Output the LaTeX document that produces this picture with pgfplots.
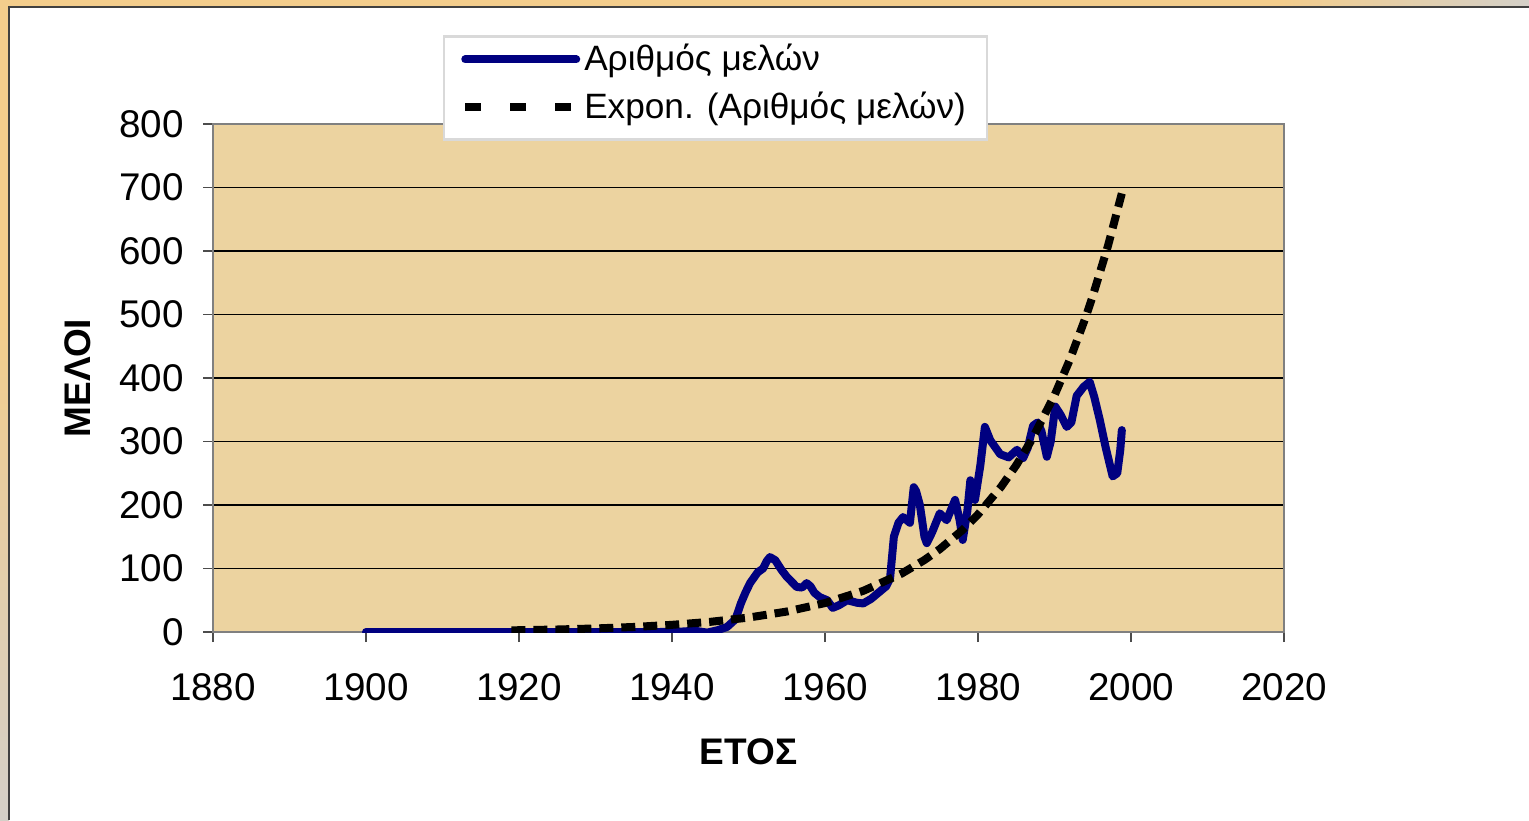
\documentclass[border=0pt]{standalone}
\usepackage{pgfplots}
\pgfplotsset{compat=1.18}
\usepackage{fontspec}
\setmainfont{Liberation Sans}
\definecolor{frameorange}{RGB}{243,205,140}
\definecolor{framegrey}{RGB}{212,208,200}
\definecolor{papyrus}{RGB}{236,211,160}
\definecolor{navyline}{RGB}{0,0,128}

\pgfplotstableread{
year val
1900 0
1910 0
1920 0
1930 0
1938.4 0
1941 0.5
1943 2
1944.6 -1
1946 3
1947.2 8
1948.3 20
1949.0 45
1949.6 62
1950.2 77
1951.2 94
1951.9 100
1952.4 112
1952.8 118
1953.5 113
1954.3 98
1955.0 87
1956.3 71
1957.0 70
1957.6 77
1958.1 72
1958.6 62
1959.3 55
1960.3 50
1961.0 38
1961.8 42
1962.9 50
1964.2 46
1965.0 45
1966.0 52
1967.0 62
1968.0 72
1968.5 84
1969.0 150
1969.6 172
1970.2 181
1971.1 172
1971.6 228
1971.9 222
1972.4 200
1973.0 150
1973.3 140
1974.0 157
1975.0 187
1975.9 176
1977.0 208
1977.6 176
1978.0 145
1978.6 190
1979.0 239
1979.6 208
1980.3 262
1980.9 323
1981.6 302
1982.9 280
1984.0 275
1985.1 287
1985.9 274
1986.5 290
1987.2 325
1987.8 330
1988.3 316
1989.0 276
1989.5 300
1990.1 355
1990.8 342
1991.6 323
1992.2 330
1992.9 372
1993.8 386
1994.6 394
1995.2 370
1995.9 335
1996.7 290
1997.6 245
1998.2 250
1998.6 287
1998.8 318
}\members

\pgfplotstableread{
year val
1919 2.59
1925 3.94
1930 5.59
1935 7.93
1940 11.3
1945 16.0
1950 22.7
1955 32.2
1960 45.6
1965 64.8
1970 91.9
1973 113.4
1975 130.5
1978 160.9
1980 185.2
1983 228.4
1985 262.7
1987 302.2
1990 372.8
1992 428.8
1994 493.3
1995 529.1
1997 608.6
1999 700
}\trend

\begin{document}
\begin{tikzpicture}
\useasboundingbox (0,0) rectangle (764.5pt,410pt);
\fill[white] (0,0) rectangle (764.5pt,410pt);
\fill[frameorange] (0,406.5pt) rectangle (640pt,410pt);
\shade[left color=frameorange, right color=framegrey] (640pt,406.5pt) rectangle (764.5pt,410pt);
\fill[frameorange] (0,250pt) rectangle (4.5pt,410pt);
\shade[top color=frameorange, bottom color=framegrey] (0,0) rectangle (4.5pt,250pt);
\draw[line width=1pt, black!75] (4.5pt,0) -- (4.5pt,406.5pt) -- (764.5pt,406.5pt);
\begin{axis}[
  at={(106.5pt,94pt)}, anchor=south west,
  scale only axis, width=535.5pt, height=254pt,
  xmin=1880, xmax=2020, ymin=0, ymax=800,
  xtick={1880,1900,...,2020}, ytick={0,100,...,800},
  axis background/.style={fill=papyrus},
  axis line style={gray, line width=0.8pt},
  ymajorgrids, major grid style={black, line width=0.6pt},
  tick align=outside, tick pos=left, major tick length=5pt,
  tick style={gray!60!black, line width=0.6pt},
  ticklabel style={font=\fontsize{19.3}{23}\selectfont},
  /pgf/number format/assume math mode=true,
  /pgf/number format/1000 sep={},
  xticklabel style={yshift=-12pt},
  yticklabel style={xshift=-6pt},
  label style={font=\bfseries\fontsize{18.5}{22}\selectfont},
  xlabel={ΕΤΟΣ}, ylabel={ΜΕΛΟΙ},
  xlabel style={at={(axis description cs:0.5,-0.236)}, anchor=center},
  ylabel style={at={(axis description cs:-0.126,0.5)}, anchor=center},
  legend image code/.code={\draw[#1] (0pt,2.3pt) -- (55.5pt,2.3pt);},
  legend cell align=left,
  legend style={at={(axis description cs:0.2148,1.175)}, anchor=north west,
    draw=gray!30, line width=1.2pt, fill=white,
    font=\fontsize{17.6}{21}\selectfont,
    nodes={text depth=6.5pt},
    inner xsep=8.5pt, inner ysep=2pt, row sep=0pt},
]
\addplot[navyline, line width=4pt, line join=round, line cap=round] table[x=year,y=val] {\members};
\addlegendentry{Αριθμός μελών}
\addplot[black, line width=4pt, dash pattern=on 7pt off 4pt,
  legend image post style={dash pattern=on 8pt off 14.5pt}] table[x=year,y=val] {\trend};
\addlegendentry{Expon. (Αριθμός μελών)}
\end{axis}
\end{tikzpicture}
\end{document}
